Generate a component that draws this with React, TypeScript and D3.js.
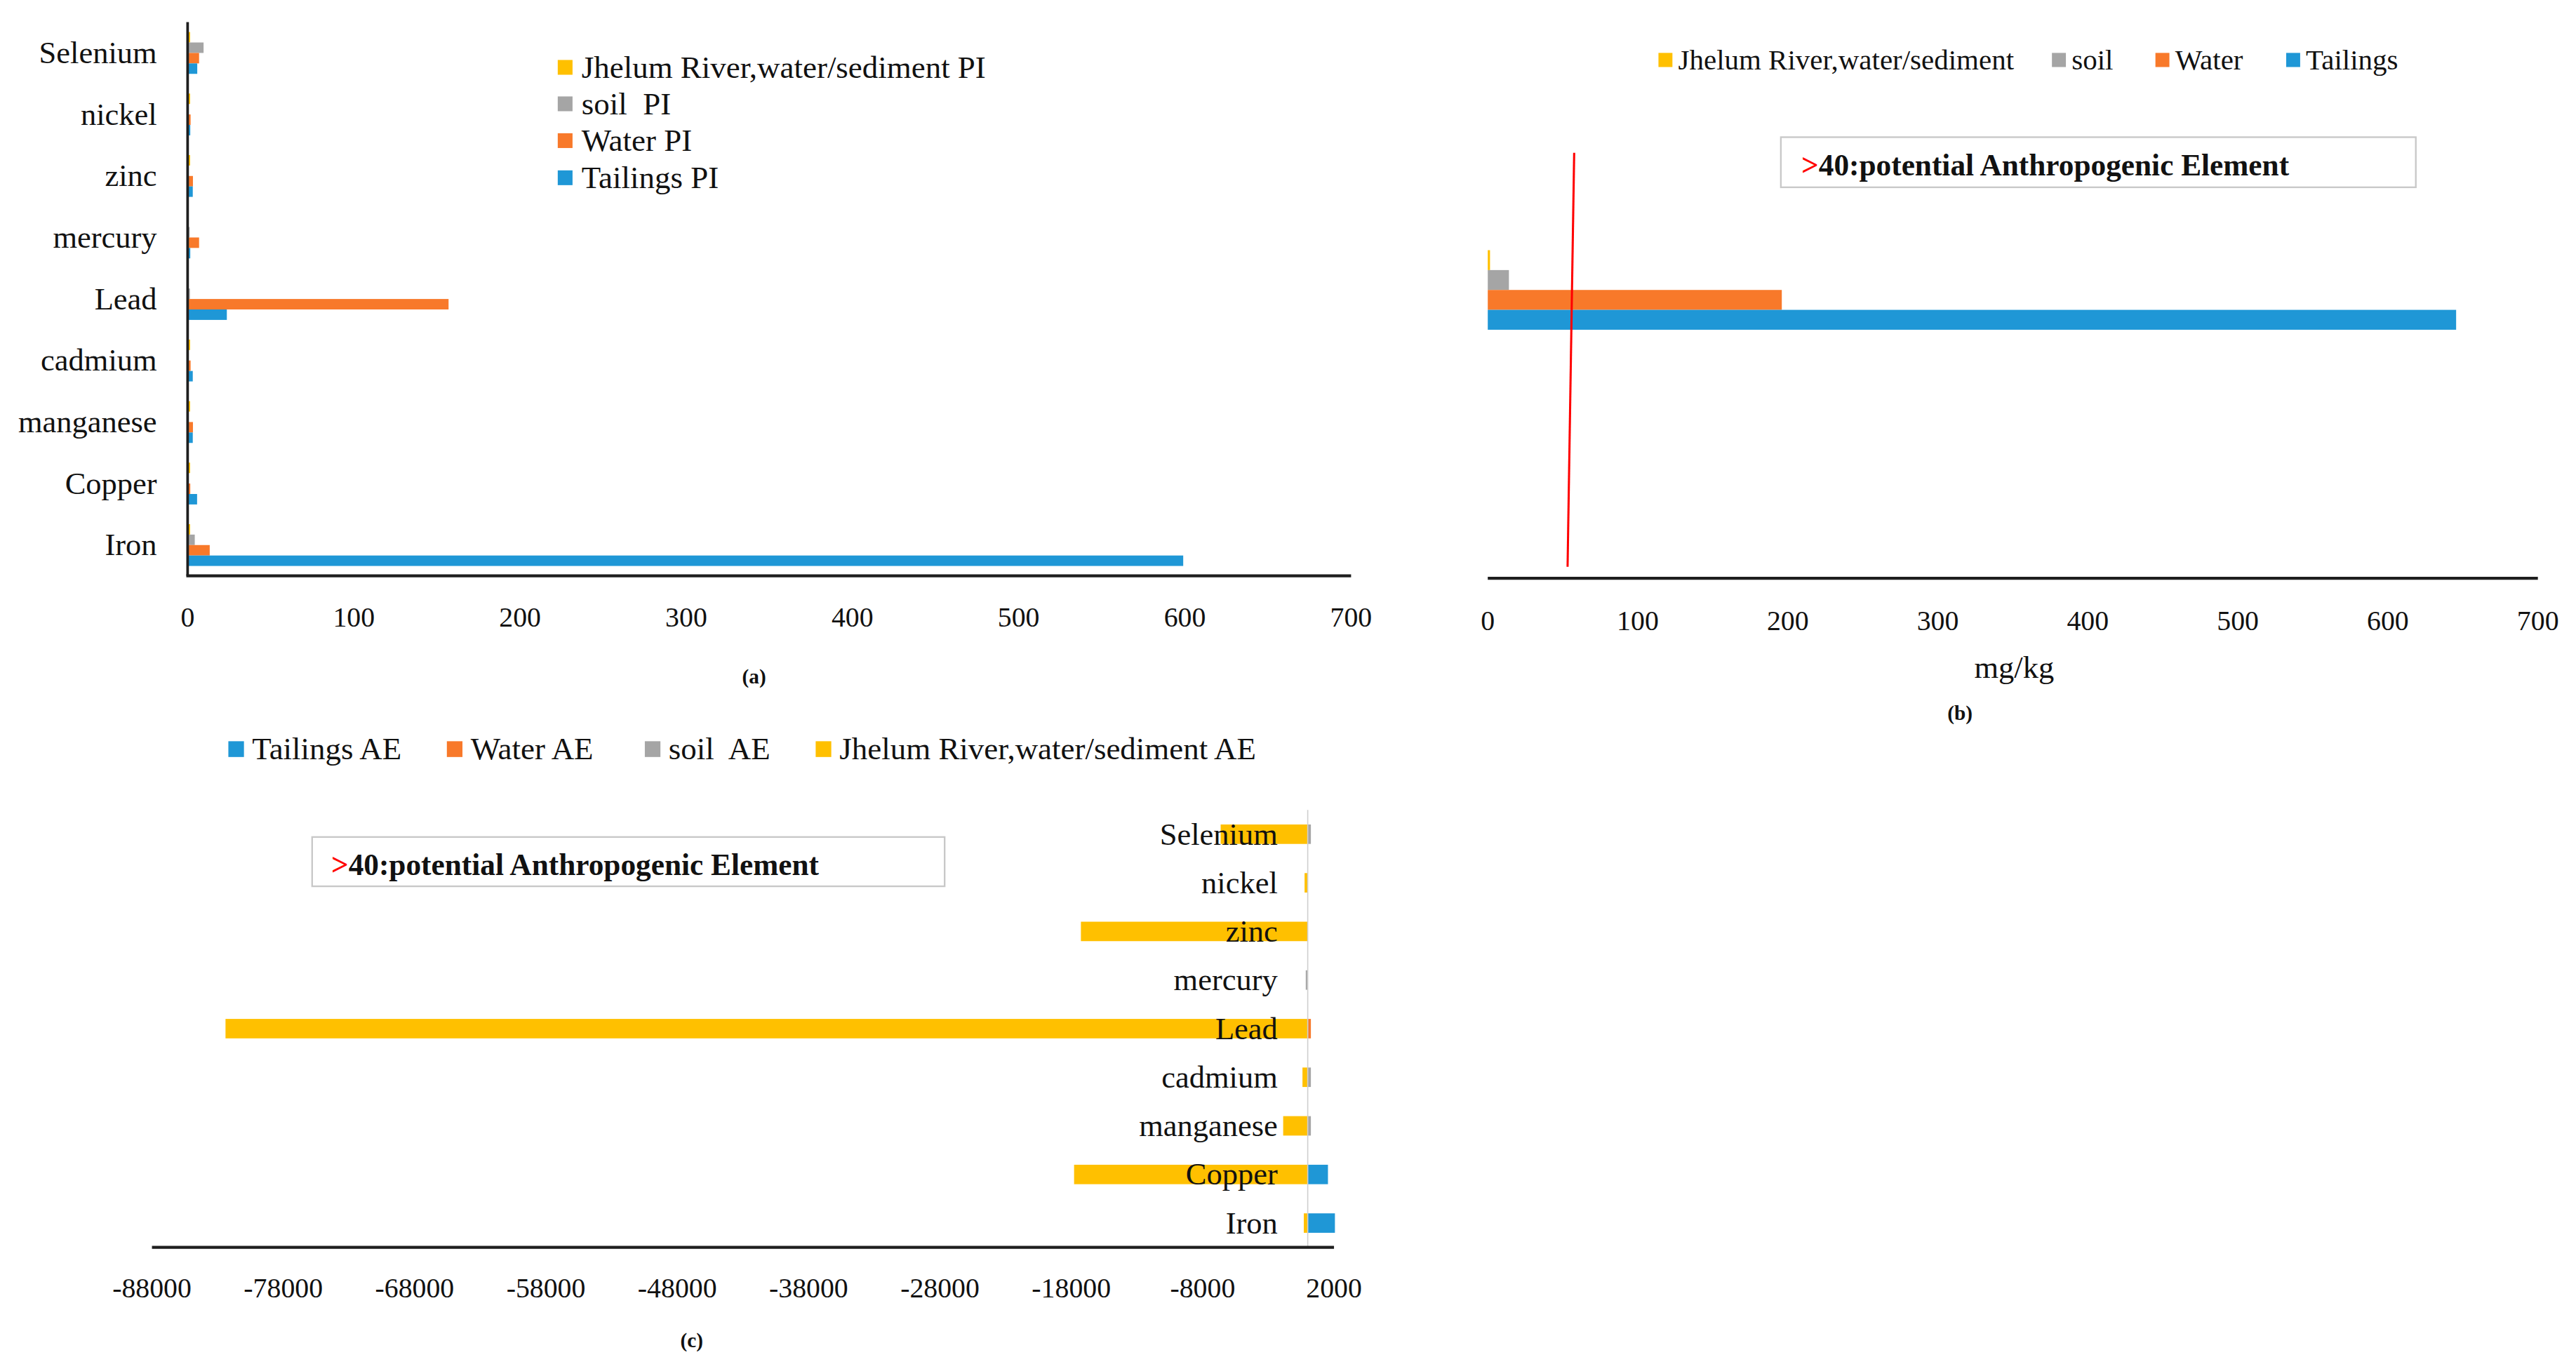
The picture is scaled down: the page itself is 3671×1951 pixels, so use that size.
import React from "react";
import * as d3 from "d3";

// ---------- DATA ----------
// categories, top to bottom as drawn
const categories = ["Selenium", "nickel", "zinc", "mercury", "Lead", "cadmium", "manganese", "Copper", "Iron"];

// Panel (a): pollution index (PI)
const seriesPI = ["Jhelum River,water/sediment PI", "soil  PI", "Water PI", "Tailings PI"];
const jhelumPI = [1.5, 1.5, 1.5, 0.3, 0.3, 1.5, 1.5, 1.5, 1.5];
const soilPI = [9.6, 0.4, 0.4, 1.2, 1.4, 0.4, 0.4, 0.4, 4.3];
const waterPI = [6.9, 1.8, 3.2, 6.9, 157, 1.8, 3.2, 1.6, 13.3];
const tailingsPI = [5.8, 1.6, 3.1, 1.6, 23.6, 3.1, 3.1, 5.7, 599];

// Panel (b): mg/kg
const seriesB = ["Jhelum River,water/sediment", "soil", "Water", "Tailings"];
const valuesB = [1.5, 14.1, 196, 645.5];
const thresholdB = [57.6, 53.2]; // red line: value at top, value at bottom
const boxText = ["40:potential Anthropogenic Element"];

// Panel (c): anthropogenic element (AE)
const seriesAE = ["Tailings AE", "Water AE", "soil  AE", "Jhelum River,water/sediment AE"];
const tailingsAE = [0, 0, 0, 0, 0, 0, 0, 1540, 2070];
const waterAE = [0, 0, 0, 0, 240, 0, 0, 0, 0];
const soilAE = [240, 0, 0, -150, 0, 240, 240, 0, 0];
const jhelumAE = [-6630, -240, -17270, 0, -82400, -400, -1870, -17790, -300];

// tick labels
const ticksAB = [0, 100, 200, 300, 400, 500, 600, 700];
const ticksC = [-88000, -78000, -68000, -58000, -48000, -38000, -28000, -18000, -8000, 2000];

// ---------- STYLE ----------
const C_YEL = "#ffc000";
const C_GRY = "#a5a5a5";
const C_ORA = "#f8792a";
const C_BLU = "#1f97d6";
const FONT = "Liberation Serif";
const AXIS = "#1e1e1e";

export default function App() {
  // ---------- Panel (a) ----------
  const xA = d3.scaleLinear().domain([0, 700]).range([114.2, 822.4]);
  const yA = d3.scaleBand<string>().domain(categories).range([13.5, 350.5]).paddingInner(0.32).paddingOuter(0.16);
  const keysA = ["j", "s", "w", "t"];
  const subA = d3.scaleBand<string>().domain(keysA).range([0, yA.bandwidth()]);
  const dataA = [jhelumPI, soilPI, waterPI, tailingsPI];
  const colA = [C_YEL, C_GRY, C_ORA, C_BLU];

  // ---------- Panel (b) ----------
  const xB = d3.scaleLinear().domain([0, 700]).range([905.6, 1544.8]);
  const yB = d3.scaleBand<string>().domain(["Total"]).range([1, 352]).paddingInner(0.862).paddingOuter(0.431);
  const subB = d3.scaleBand<string>().domain(keysA).range([0, yB.bandwidth()]);
  const colB = [C_YEL, C_GRY, C_ORA, C_BLU];

  // ---------- Panel (c) ----------
  const xC = d3.scaleLinear().domain([-88000, 2000]).range([92.5, 812]);
  const yC = d3.scaleBand<string>().domain(categories).range([493, 759.3]).paddingInner(0.6).paddingOuter(0.3);
  const dataC = [tailingsAE, waterAE, soilAE, jhelumAE];
  const colC = [C_BLU, C_ORA, C_GRY, C_YEL];

  const legendAy = [41, 63.2, 85.6, 108.2];
  const legendBx = [1009.5, 1249, 1312, 1391.6];
  const legendCx = [139, 272, 392.5, 496.5];

  return (
    <svg
      width={3671}
      height={1951}
      viewBox="0 0 1568 833.33"
      style={{ position: "absolute", left: 0, top: 0, background: "#fff" }}
      fontFamily={FONT}
    >
      <rect x={0} y={0} width={1568} height={833.33} fill="#fff" />

      {/* ===== Panel (a) ===== */}
      <g>
        {categories.map((cat, i) =>
          dataA.map((arr, k) => (
            <rect
              key={`a-${i}-${k}`}
              x={xA(0)}
              y={(yA(cat) as number) + (subA(keysA[k]) as number)}
              width={Math.max(0, xA(arr[i]) - xA(0))}
              height={subA.bandwidth()}
              fill={colA[k]}
            />
          ))
        )}
        <line x1={xA(0)} x2={xA(0)} y1={13.5} y2={350.5} stroke={AXIS} strokeWidth={1.6} />
        <line x1={xA(0) - 0.8} x2={xA(700)} y1={350.5} y2={350.5} stroke={AXIS} strokeWidth={1.8} />
        {categories.map((cat) => (
          <text key={`al-${cat}`} x={95.5} y={(yA(cat) as number) + yA.bandwidth() / 2} dy="0.33em" textAnchor="end" fontSize={19} fill="#111">
            {cat}
          </text>
        ))}
        {ticksAB.map((t) => (
          <text key={`at-${t}`} x={xA(t)} y={376} dy="0.33em" textAnchor="middle" fontSize={17} fill="#111">
            {t}
          </text>
        ))}
        {seriesPI.map((s, k) => (
          <g key={`alg-${k}`}>
            <rect x={339.5} y={legendAy[k] - 4.5} width={9} height={9} fill={colA[k]} />
            <text x={354} y={legendAy[k]} dy="0.33em" fontSize={19.2} fill="#111" style={{ whiteSpace: "pre" }}>
              {s}
            </text>
          </g>
        ))}
        <text x={459} y={413} dy="0.25em" textAnchor="middle" fontSize={12.5} fontWeight="bold" fill="#111">(a)</text>
      </g>

      {/* ===== Panel (b) ===== */}
      <g>
        {valuesB.map((v, k) => (
          <rect
            key={`b-${k}`}
            x={xB(0)}
            y={(yB("Total") as number) + (subB(keysA[k]) as number)}
            width={Math.max(0, xB(v) - xB(0))}
            height={subB.bandwidth()}
            fill={colB[k]}
          />
        ))}
        <line x1={xB(0)} x2={xB(700)} y1={352} y2={352} stroke={AXIS} strokeWidth={1.8} />
        <line x1={xB(thresholdB[0])} y1={93} x2={xB(thresholdB[1])} y2={345} stroke="#ff0000" strokeWidth={1.3} />
        {ticksAB.map((t) => (
          <text key={`bt-${t}`} x={xB(t)} y={378} dy="0.33em" textAnchor="middle" fontSize={17} fill="#111">
            {t}
          </text>
        ))}
        <text x={1226} y={408} dy="0.25em" textAnchor="middle" fontSize={19} fill="#111">mg/kg</text>
        <text x={1193} y={435} dy="0.25em" textAnchor="middle" fontSize={12.5} fontWeight="bold" fill="#111">(b)</text>
        {seriesB.map((s, k) => (
          <g key={`blg-${k}`}>
            <rect x={legendBx[k]} y={36.5 - 4.3} width={8.5} height={8.6} fill={colB[k]} />
            <text x={legendBx[k] + 12} y={36.5} dy="0.33em" fontSize={17.5} fill="#111">
              {s}
            </text>
          </g>
        ))}
        <rect x={1084} y={83.5} width={386.5} height={30.5} fill="#fff" stroke="#c8c8c8" strokeWidth={1} />
        <text x={1096.5} y={106.8} fontSize={18.5} fontWeight="bold" fill="#111">
          <tspan fill="#ff0000">&gt;</tspan>
          {boxText[0]}
        </text>
      </g>

      {/* ===== Panel (c) ===== */}
      <g>
        {dataC.map((arr, k) =>
          categories.map((cat, i) => {
            const v = arr[i];
            if (v === 0) return null;
            const x0 = xC(Math.min(0, v));
            const x1 = xC(Math.max(0, v));
            return (
              <rect
                key={`c-${k}-${i}`}
                x={x0}
                y={yC(cat) as number}
                width={x1 - x0}
                height={yC.bandwidth()}
                fill={colC[k]}
              />
            );
          })
        )}
        <line x1={xC(0)} x2={xC(0)} y1={493} y2={759.3} stroke="#cfcfcf" strokeWidth={0.7} />
        <line x1={xC(-88000)} x2={xC(2000)} y1={759.3} y2={759.3} stroke={AXIS} strokeWidth={1.8} />
        {categories.map((cat) => (
          <text key={`cl-${cat}`} x={777.7} y={(yC(cat) as number) + yC.bandwidth() / 2} dy="0.33em" textAnchor="end" fontSize={19} fill="#111">
            {cat}
          </text>
        ))}
        {ticksC.map((t) => (
          <text key={`ct-${t}`} x={xC(t)} y={784} dy="0.33em" textAnchor="middle" fontSize={17} fill="#111">
            {String(t)}
          </text>
        ))}
        <text x={421} y={817} dy="0.25em" textAnchor="middle" fontSize={12.5} fontWeight="bold" fill="#111">(c)</text>
        {seriesAE.map((s, k) => (
          <g key={`clg-${k}`}>
            <rect x={legendCx[k]} y={456 - 4.8} width={9.5} height={9.6} fill={colC[k]} />
            <text x={legendCx[k] + 14.5} y={456} dy="0.33em" fontSize={19.2} fill="#111" style={{ whiteSpace: "pre" }}>
              {s}
            </text>
          </g>
        ))}
        <rect x={190} y={509.5} width={385} height={30} fill="#fff" stroke="#c8c8c8" strokeWidth={1} />
        <text x={201.6} y={532.5} fontSize={18.5} fontWeight="bold" fill="#111">
          <tspan fill="#ff0000">&gt;</tspan>
          {boxText[0]}
        </text>
      </g>
    </svg>
  );
}
